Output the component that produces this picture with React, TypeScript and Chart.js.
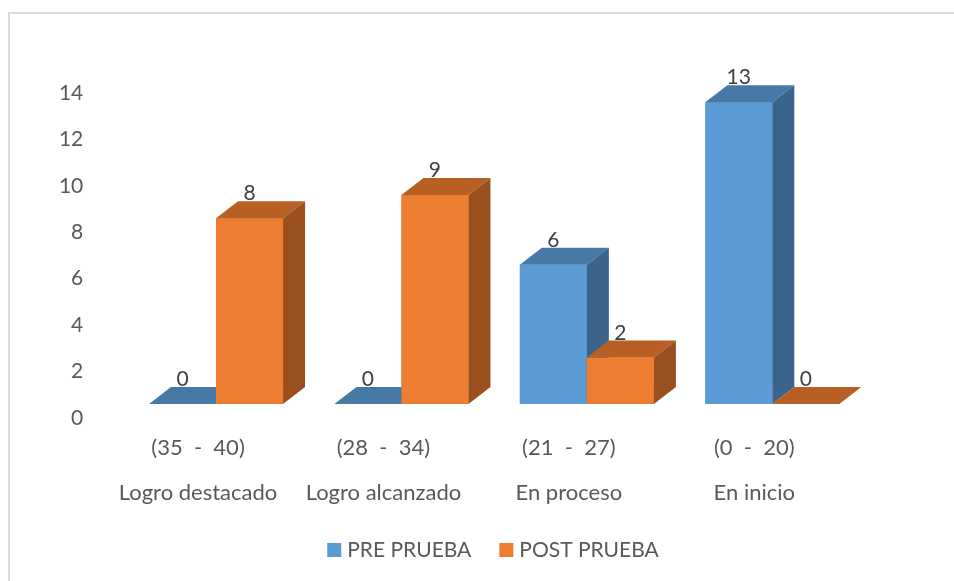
import React, { useEffect, useRef } from 'react';
import { Chart, registerables } from 'chart.js';

Chart.register(...registerables);

const rangeLabels = ['(35  -  40)', '(28  -  34)', '(21  -  27)', '(0  -  20)'];
const levelLabels = ['Logro destacado', 'Logro alcanzado', 'En proceso', 'En inicio'];
const seriesNames = ['PRE PRUEBA', 'POST PRUEBA'];
const preValues = [0, 0, 6, 13];
const postValues = [8, 9, 2, 0];
const yMin = 0;
const yMax = 14;
const yStep = 2;

const FONT = 'Lato, "Noto Sans", sans-serif';
const frontColors = ['#5B9BD5', '#ED7D31'];
const topColors = ['#4779A7', '#B86024'];
const sideColors = ['#3B648A', '#9A4F1E'];
const DX = 22;
const DY = -17;

const threeDPlugin = {
  id: 'threeD',
  beforeDraw(chart: any) {
    const ctx = chart.ctx;
    ctx.save();
    ctx.fillStyle = '#ffffff';
    ctx.fillRect(0, 0, chart.width, chart.height);
    ctx.fillStyle = '#d9d9d9';
    ctx.fillRect(8, 12, chart.width - 8, 2);
    ctx.fillRect(8, 12, 2, chart.height - 12);
    ctx.restore();
  },
  afterDatasetsDraw(chart: any) {
    const ctx = chart.ctx;
    const n = chart.data.labels.length;
    const metas = chart.data.datasets.map((_: any, i: number) => chart.getDatasetMeta(i));
    ctx.save();
    const poly = (pts: number[][], color: string) => {
      ctx.beginPath();
      ctx.moveTo(pts[0][0], pts[0][1]);
      for (let k = 1; k < pts.length; k++) ctx.lineTo(pts[k][0], pts[k][1]);
      ctx.closePath();
      ctx.fillStyle = color;
      ctx.fill();
    };
    for (let i = 0; i < n; i++) {
      for (let d = 0; d < metas.length; d++) {
        const el = metas[d].data[i];
        const { x, y, base, width } = el.getProps(['x', 'y', 'base', 'width'], true);
        const l = x - width / 2;
        const r = x + width / 2;
        if (base - y > 0) {
          ctx.fillStyle = frontColors[d];
          ctx.fillRect(l, y, width, base - y);
        }
        poly([[l, y], [l + DX, y + DY], [r + DX, y + DY], [r, y]], topColors[d]);
        poly([[r, y], [r + DX, y + DY], [r + DX, base + DY], [r, base]], sideColors[d]);
      }
    }
    ctx.font = '21px ' + FONT;
    ctx.fillStyle = '#404040';
    ctx.textAlign = 'center';
    ctx.textBaseline = 'alphabetic';
    for (let d = 0; d < metas.length; d++) {
      const vals = chart.data.datasets[d].data;
      for (let i = 0; i < n; i++) {
        const el = metas[d].data[i];
        const { x, y } = el.getProps(['x', 'y'], true);
        ctx.fillText(String(vals[i]), x, y + DY - 1);
      }
    }
    // legend
    ctx.font = '21px ' + FONT;
    ctx.textAlign = 'left';
    ctx.fillStyle = '#595959';
    const box = 14;
    const gap = 6;
    const itemGap = 28;
    const widths = seriesNames.map((s) => ctx.measureText(s).width);
    let total = 0;
    widths.forEach((w, k) => {
      total += box + gap + w + (k < widths.length - 1 ? itemGap : 0);
    });
    let cx = 493 - total / 2;
    const boxTop = 543;
    seriesNames.forEach((s, k) => {
      ctx.fillStyle = frontColors[k];
      ctx.fillRect(cx, boxTop, box, box);
      ctx.fillStyle = '#595959';
      ctx.fillText(s, cx + box + gap, 557);
      cx += box + gap + widths[k] + itemGap;
    });
    ctx.restore();
  },
};

export default function App() {
  const ref = useRef<HTMLCanvasElement | null>(null);
  useEffect(() => {
    if (!ref.current) return;
    const labels = rangeLabels.map((r, i) => [r, levelLabels[i]]);
    const chart = new Chart(ref.current, {
      type: 'bar',
      data: {
        labels,
        datasets: [
          { label: seriesNames[0], data: preValues, backgroundColor: frontColors[0], borderWidth: 0 },
          { label: seriesNames[1], data: postValues, backgroundColor: frontColors[1], borderWidth: 0 },
        ],
      },
      options: {
        animation: false,
        responsive: true,
        maintainAspectRatio: false,
        devicePixelRatio: 1,
        layout: { padding: { left: 0, top: 79, right: 89, bottom: 0 } },
        plugins: { legend: { display: false }, tooltip: { enabled: false } },
        datasets: { bar: { categoryPercentage: 0.723, barPercentage: 1 } },
        scales: {
          x: {
            grid: { display: false, drawTicks: false },
            border: { display: false },
            ticks: {
              font: { family: FONT, size: 22, lineHeight: 2.05 },
              color: '#595959',
              padding: 21,
              labelOffset: -18,
              maxRotation: 0,
              autoSkip: false,
            },
            afterFit: (s: any) => {
              s.height = 177;
            },
          },
          y: {
            min: yMin,
            max: yMax,
            grid: { display: false, drawTicks: false },
            border: { display: false },
            ticks: {
              stepSize: yStep,
              font: { family: FONT, size: 21 },
              color: '#595959',
              padding: 40,
              labelOffset: 14,
            },
            afterFit: (s: any) => {
              s.width = 123.3;
            },
          },
        },
      },
      plugins: [threeDPlugin],
    });
    return () => chart.destroy();
  }, []);
  return (
    <div style={{ position: 'absolute', left: 0, top: 0, width: 954, height: 581 }}>
      <canvas ref={ref} />
    </div>
  );
}
